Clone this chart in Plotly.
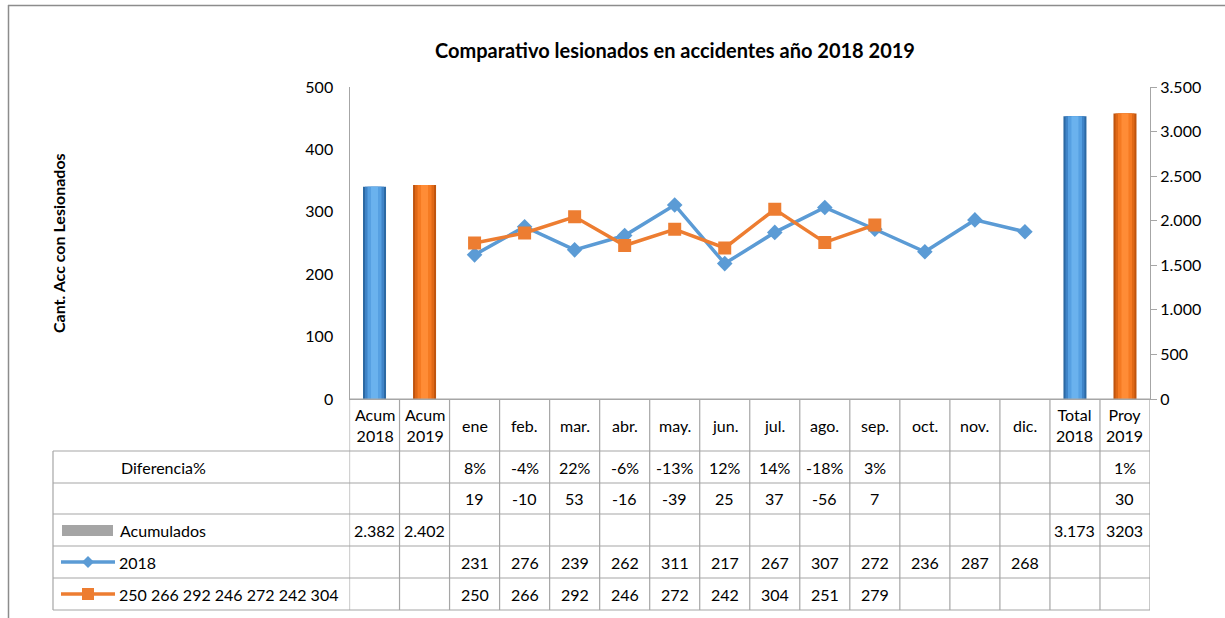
import plotly.graph_objects as go

W, H = 1225, 618

# ---------------- data ----------------
categories = ["Acum 2018", "Acum 2019", "ene", "feb.", "mar.", "abr.", "may.", "jun.",
              "jul.", "ago.", "sep.", "oct.", "nov.", "dic.", "Total 2018", "Proy 2019"]
header_labels = ["Acum<br>2018", "Acum<br>2019", "ene", "feb.", "mar.", "abr.", "may.", "jun.",
                 "jul.", "ago.", "sep.", "oct.", "nov.", "dic.", "Total<br>2018", "Proy<br>2019"]

months = ["ene", "feb.", "mar.", "abr.", "may.", "jun.", "jul.", "ago.", "sep.", "oct.", "nov.", "dic."]
vals_2018 = [231, 276, 239, 262, 311, 217, 267, 307, 272, 236, 287, 268]
months_2019 = ["ene", "feb.", "mar.", "abr.", "may.", "jun.", "jul.", "ago.", "sep."]
vals_2019 = [250, 266, 292, 246, 272, 242, 304, 251, 279]

acum_cats_blue = ["Acum 2018", "Total 2018"]
acum_vals_blue = [2382, 3173]
acum_cats_orange = ["Acum 2019", "Proy 2019"]
acum_vals_orange = [2402, 3203]

dif_pct_cats = ["ene", "feb.", "mar.", "abr.", "may.", "jun.", "jul.", "ago.", "sep.", "Proy 2019"]
dif_pct_text = ["8%", "-4%", "22%", "-6%", "-13%", "12%", "14%", "-18%", "3%", "1%"]
dif_abs_cats = ["ene", "feb.", "mar.", "abr.", "may.", "jun.", "jul.", "ago.", "sep.", "Proy 2019"]
dif_abs_text = ["19", "-10", "53", "-16", "-39", "25", "37", "-56", "7", "30"]
acum_row_cats = ["Acum 2018", "Acum 2019", "Total 2018", "Proy 2019"]
acum_row_text = ["2.382", "2.402", "3.173", "3203"]

title_text = "Comparativo lesionados en accidentes año 2018 2019"
ytitle_text = "Cant. Acc con Lesionados"
row_labels = ["Diferencia%", "", "Acumulados", "2018", "250 266 292 246 272 242 304"]

# ---------------- layout helpers (pixel -> paper) ----------------
def px(x):
    return x / W

def py(y):
    return 1 - y / H

FONT = "Lato, 'Open Sans', Arial, sans-serif"
BLUE = "#5B9BD5"
ORANGE = "#ED7D31"
GRID = "#A6A6A6"

x_left, x_right = 349.5, 1150
y_top, y_bot = 87, 399
row_edges = [399, 451, 483, 514, 546, 578, 610]
table_left = 53

fig = go.Figure()

# bars (right axis), layered to imitate cylinder shading
for cats, vals, cols in [
    (acum_cats_blue, acum_vals_blue, ["#2C69A3", "#3F84C8", "#56A0E2", "#6AB2EE"]),
    (acum_cats_orange, acum_vals_orange, ["#BF540E", "#E06816", "#F57A22", "#FF8C36"]),
]:
    for w, c in zip([0.46, 0.38, 0.28, 0.14], cols):
        fig.add_trace(go.Bar(x=cats, y=vals, yaxis="y2", width=w,
                             marker=dict(color=c, line=dict(width=0)),
                             showlegend=False, hoverinfo="skip"))

# lines (left axis)
fig.add_trace(go.Scatter(x=months, y=vals_2018, mode="lines+markers", name="2018",
                         line=dict(color=BLUE, width=3.5),
                         marker=dict(symbol="diamond", size=12, color=BLUE),
                         showlegend=False))
fig.add_trace(go.Scatter(x=months_2019, y=vals_2019, mode="lines+markers",
                         name="250 266 292 246 272 242 304",
                         line=dict(color=ORANGE, width=3.5),
                         marker=dict(symbol="square", size=13, color=ORANGE),
                         showlegend=False))

shapes = []
ann = []

# outer frame (partial)
shapes.append(dict(type="line", xref="paper", yref="paper", x0=px(8), x1=1, y0=py(5.5), y1=py(5.5),
                   line=dict(color="#8C8C8C", width=1.5)))
shapes.append(dict(type="line", xref="paper", yref="paper", x0=px(8.5), x1=px(8.5), y0=py(5), y1=0,
                   line=dict(color="#8C8C8C", width=1.5)))

# table horizontal lines
for i, y in enumerate(row_edges):
    x0 = px(x_left) if i == 0 else px(table_left)
    shapes.append(dict(type="line", xref="paper", yref="paper", x0=x0, x1=px(x_right),
                       y0=py(y), y1=py(y), line=dict(color=GRID, width=1.2)))
# table vertical lines at category boundaries
for k in range(len(categories) + 1):
    shapes.append(dict(type="line", xref="x", yref="paper", x0=k - 0.5, x1=k - 0.5,
                       y0=py(row_edges[0]), y1=py(row_edges[-1]), line=dict(color=GRID, width=1.2)))
shapes.append(dict(type="line", xref="paper", yref="paper", x0=px(table_left), x1=px(table_left),
                   y0=py(row_edges[1]), y1=py(row_edges[-1]), line=dict(color=GRID, width=1.2)))

TXT = dict(family=FONT, size=16, color="#000")

# header labels
hy = (row_edges[0] + row_edges[1]) / 2 + 0.5
for c, lab in zip(categories, header_labels):
    ann.append(dict(x=c, xref="x", y=py(hy), yref="paper", text=lab, showarrow=False,
                    xanchor="center", yanchor="middle", font=TXT, align="center"))

def row_center(r):
    return py((row_edges[r + 1] + row_edges[r + 2]) / 2)

for r, (cats, texts) in enumerate([(dif_pct_cats, dif_pct_text), (dif_abs_cats, dif_abs_text),
                                   (acum_row_cats, acum_row_text),
                                   (months, [str(v) for v in vals_2018]),
                                   (months_2019, [str(v) for v in vals_2019])]):
    for c, t in zip(cats, texts):
        ann.append(dict(x=c, xref="x", y=row_center(r), yref="paper", text=t, showarrow=False,
                        xanchor="center", yanchor="middle", font=TXT))

# row labels
label_x = [119, 119, 118, 117, 117]
for r, (lab, lx) in enumerate(zip(row_labels, label_x)):
    if lab:
        ann.append(dict(x=px(lx), xref="paper", y=row_center(r), yref="paper", text=lab,
                        showarrow=False, xanchor="left", yanchor="middle", font=TXT))

# legend keys in table
cy = (row_edges[3] + row_edges[4]) / 2
shapes.append(dict(type="rect", xref="paper", yref="paper", x0=px(62), x1=px(113),
                   y0=py(cy - 5), y1=py(cy + 6), fillcolor="#A5A5A5", line=dict(width=0)))
cy = (row_edges[4] + row_edges[5]) / 2
shapes.append(dict(type="line", xref="paper", yref="paper", x0=px(61), x1=px(115), y0=py(cy), y1=py(cy),
                   line=dict(color=BLUE, width=3.5)))
d = 6
shapes.append(dict(type="path", xref="paper", yref="paper",
                   path=f"M {px(88-d)} {py(cy)} L {px(88)} {py(cy-d)} L {px(88+d)} {py(cy)} L {px(88)} {py(cy+d)} Z",
                   fillcolor=BLUE, line=dict(width=0)))
cy = (row_edges[5] + row_edges[6]) / 2
shapes.append(dict(type="line", xref="paper", yref="paper", x0=px(61), x1=px(115), y0=py(cy), y1=py(cy),
                   line=dict(color=ORANGE, width=3.5)))
s = 6
shapes.append(dict(type="rect", xref="paper", yref="paper", x0=px(88 - s), x1=px(88 + s),
                   y0=py(cy - s), y1=py(cy + s), fillcolor=ORANGE, line=dict(width=0)))

# title and y title
ann.append(dict(x=px(675), xref="paper", y=py(50), yref="paper", text=f"<b>{title_text}</b>",
                showarrow=False, xanchor="center", yanchor="middle",
                font=dict(family=FONT, size=20, color="#000")))
ann.append(dict(x=px(58), xref="paper", y=py(243), yref="paper", text=f"<b>{ytitle_text}</b>",
                showarrow=False, textangle=-90, xanchor="center", yanchor="middle",
                font=dict(family=FONT, size=16, color="#000")))

fig.update_layout(
    width=W, height=H,
    margin=dict(l=0, r=0, t=0, b=0, pad=0, autoexpand=False),
    paper_bgcolor="white", plot_bgcolor="white",
    barmode="overlay",
    separators=",.",
    showlegend=False,
    xaxis=dict(domain=[px(x_left), px(x_right)], type="category",
               categoryorder="array", categoryarray=categories, range=[-0.5, len(categories) - 0.5],
               showticklabels=False, ticks="", showline=True, linecolor=GRID, linewidth=1.2,
               showgrid=False, zeroline=False, fixedrange=True),
    yaxis=dict(domain=[py(y_bot), py(y_top)], range=[0, 500], dtick=100,
               showline=True, linecolor=GRID, linewidth=1.2, ticks="", showgrid=False,
               zeroline=False, tickfont=TXT, ticklabelstandoff=12),
    yaxis2=dict(domain=[py(y_bot), py(y_top)], range=[0, 3500], dtick=500, overlaying="y", side="right",
                showline=True, linecolor=GRID, linewidth=1.2, ticks="outside", ticklen=6, tickcolor=GRID,
                showgrid=False, zeroline=False, tickformat=",d", tickfont=TXT),
    shapes=shapes,
    annotations=ann,
    font=TXT,
)

fig.write_html("out.html", config={"displayModeBar": False},
               post_script="document.body.style.margin='0';document.body.style.overflow='hidden';")
